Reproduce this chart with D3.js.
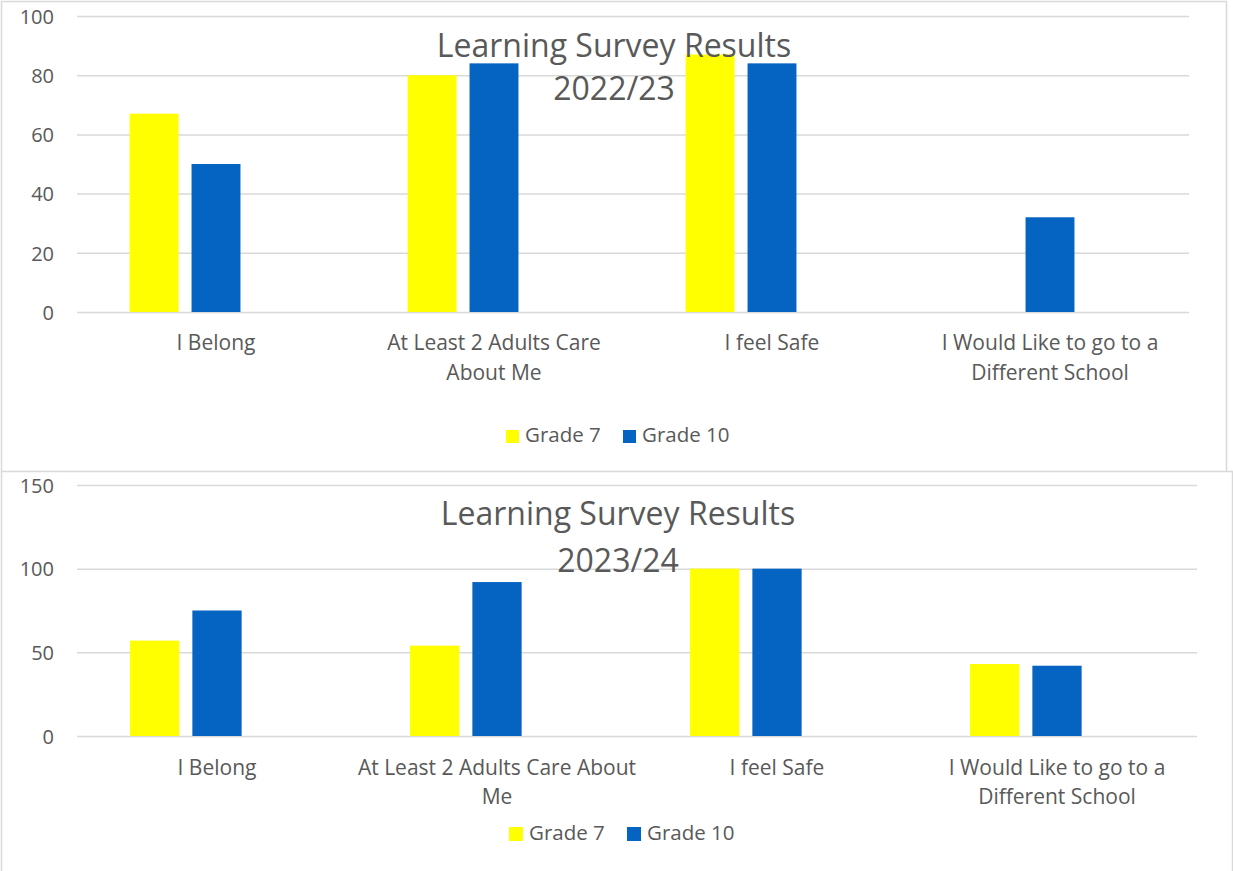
<!DOCTYPE html>
<html>
<head>
<meta charset="utf-8">
<script src="https://cdn.jsdelivr.net/npm/d3@7"></script>
<style>
  body { margin: 0; background: #fff; }
  text { font-family: "Open Sans", sans-serif; fill: #595959; }
</style>
</head>
<body>
<div id="container"></div>
<script>
var categories = ["I Belong", "At Least 2 Adults Care About Me", "I feel Safe", "I Would Like to go to a Different School"];
var seriesNames = ["Grade 7", "Grade 10"];
var seriesColors = ["#FFFF00", "#0563C1"];

var grade7_2223 = [67, 80, 87, 0];
var grade10_2223 = [50, 84, 84, 32];
var grade7_2324 = [57, 54, 100, 43];
var grade10_2324 = [75, 92, 100, 42];

var ticks2223 = [0, 20, 40, 60, 80, 100];
var ticks2324 = [0, 50, 100, 150];

// category labels as they wrap in each chart
var labels2223 = [["I Belong"], ["At Least 2 Adults Care", "About Me"], ["I feel Safe"], ["I Would Like to go to a", "Different School"]];
var labels2324 = [["I Belong"], ["At Least 2 Adults Care About", "Me"], ["I feel Safe"], ["I Would Like to go to a", "Different School"]];

var width = 1233;
var height = 871;

var svg = d3.select("#container").append("svg")
    .attr("width", width)
    .attr("height", height);

// chart frames
svg.append("path")
    .attr("d", "M1.5,471 L1.5,1.5 L1226.5,1.5 L1226.5,471")
    .attr("fill", "none").attr("stroke", "#D9D9D9").attr("stroke-width", 1.5);
svg.append("path")
    .attr("d", "M1.5,871 L1.5,471.5 L1232.5,471.5 L1232.5,871")
    .attr("fill", "none").attr("stroke", "#D9D9D9").attr("stroke-width", 1.5);

function drawChart(opts) {
  var g = svg.append("g");

  var x0 = d3.scaleBand()
      .domain(categories)
      .range([opts.left, opts.right])
      .padding(0);

  // three slots per category, the third one stays empty
  var x1 = d3.scaleBand()
      .domain(["Grade 7", "Grade 10", "_"])
      .range([0, x0.bandwidth()])
      .paddingInner(0.21)
      .paddingOuter(0.85);

  var y = d3.scaleLinear()
      .domain([0, opts.max])
      .range([opts.bottom, opts.top]);

  var yAxis = d3.axisLeft(y)
      .tickValues(opts.ticks)
      .tickSize(-(opts.right - opts.left))
      .tickPadding(23)
      .tickFormat(d3.format("d"));

  var ax = g.append("g")
      .attr("transform", "translate(" + opts.left + ",0)")
      .call(yAxis);
  ax.select(".domain").remove();
  ax.selectAll(".tick line").attr("stroke", "#D9D9D9").attr("stroke-width", 1.5);
  ax.selectAll(".tick text")
      .attr("font-size", 20)
      .attr("font-family", "Open Sans")
      .attr("fill", "#595959")
      .attr("dy", "0.36em");

  var rows = [];
  categories.forEach(function(c, i) {
    opts.values.forEach(function(vals, s) {
      rows.push({cat: c, series: seriesNames[s], value: vals[i], color: seriesColors[s]});
    });
  });

  g.selectAll("rect.bar")
      .data(rows.filter(function(d) { return d.value > 0; }))
      .enter().append("rect")
      .attr("class", "bar")
      .attr("x", function(d) { return x0(d.cat) + x1(d.series); })
      .attr("width", x1.bandwidth())
      .attr("y", function(d) { return y(d.value); })
      .attr("height", function(d) { return y(0) - y(d.value); })
      .attr("fill", function(d) { return d.color; });

  // category labels
  categories.forEach(function(c, i) {
    var t = g.append("text")
        .attr("text-anchor", "middle")
        .attr("font-size", 21)
        .attr("x", x0(c) + x0.bandwidth() / 2)
        .attr("y", opts.labelY);
    opts.labels[i].forEach(function(line, j) {
      t.append("tspan")
          .attr("x", x0(c) + x0.bandwidth() / 2)
          .attr("dy", j === 0 ? 0 : opts.lineH)
          .text(line);
    });
  });

  // title
  var title = g.append("text")
      .attr("text-anchor", "middle")
      .attr("font-size", 32)
      .attr("x", opts.titleX)
      .attr("y", opts.titleY);
  title.append("tspan").attr("x", opts.titleX).text("Learning Survey Results");
  title.append("tspan").attr("x", opts.titleX).attr("dy", opts.titleLineH).text(opts.year);

  // legend
  var leg = g.append("g").attr("transform", "translate(" + opts.legendX + "," + opts.legendY + ")");
  var offsets = [0, opts.legendGap];
  seriesNames.forEach(function(name, s) {
    leg.append("rect")
        .attr("x", offsets[s])
        .attr("y", -opts.sq + 1)
        .attr("width", opts.sq)
        .attr("height", opts.sq)
        .attr("fill", seriesColors[s]);
    leg.append("text")
        .attr("x", offsets[s] + opts.sq + 6)
        .attr("y", 0)
        .attr("font-size", 20.5)
        .text(name);
  });
}

drawChart({
  left: 77, right: 1189, top: 16, bottom: 312, max: 100,
  ticks: ticks2223, values: [grade7_2223, grade10_2223], labels: labels2223,
  labelY: 350, lineH: 30,
  titleX: 614, titleY: 57, titleLineH: 43, year: "2022/23",
  legendX: 506, legendY: 442, legendGap: 117, sq: 13
});

drawChart({
  left: 77, right: 1197, top: 485, bottom: 736, max: 150,
  ticks: ticks2324, values: [grade7_2324, grade10_2324], labels: labels2324,
  labelY: 775, lineH: 29,
  titleX: 618, titleY: 525, titleLineH: 47, year: "2023/24",
  legendX: 509, legendY: 840, legendGap: 118, sq: 14
});
</script>
</body>
</html>
